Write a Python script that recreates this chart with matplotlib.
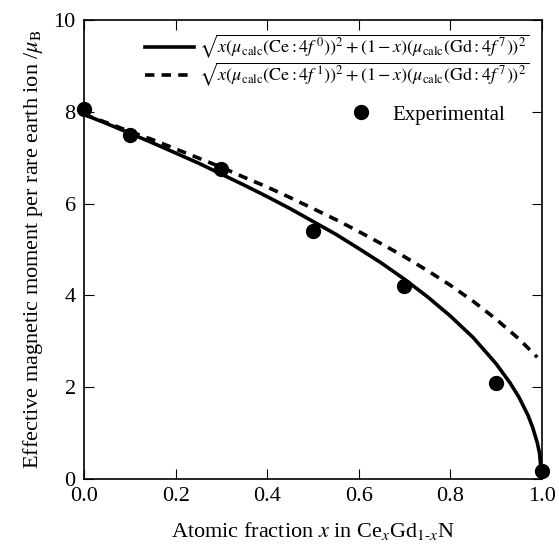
import matplotlib
matplotlib.use("Agg")
import matplotlib.pyplot as plt

plt.rcParams['font.family'] = ['Liberation Serif', 'DejaVu Serif']
plt.rcParams['mathtext.fontset'] = 'stix'

# Experimental data
x_exp = [0.0, 0.1, 0.3, 0.5, 0.7, 0.9, 1.0]
mu_exp = [8.05, 7.5, 6.75, 5.4, 4.2, 2.1, 0.18]

# Calculated curve (Ce 4f0)
x_f0 = [0, 0.05, 0.1, 0.15, 0.2, 0.25, 0.3, 0.35, 0.4, 0.45, 0.5, 0.55, 0.6,
        0.65, 0.7, 0.75, 0.8, 0.85, 0.9, 0.93, 0.95, 0.97, 0.98, 0.99, 0.995, 1.0]
mu_f0 = [7.94, 7.74, 7.53, 7.32, 7.10, 6.88, 6.64, 6.40, 6.15, 5.89, 5.61, 5.33, 5.02,
         4.70, 4.35, 3.97, 3.55, 3.08, 2.51, 2.10, 1.78, 1.38, 1.12, 0.79, 0.56, 0.0]

# Calculated curve (Ce 4f1)
x_f1 = [0, 0.05, 0.1, 0.15, 0.2, 0.25, 0.3, 0.35, 0.4, 0.45, 0.5, 0.55, 0.6,
        0.65, 0.7, 0.75, 0.8, 0.85, 0.9, 0.95, 0.99]
mu_f1 = [7.94, 7.76, 7.57, 7.39, 7.19, 6.99, 6.79, 6.57, 6.36, 6.13, 5.89, 5.65, 5.39,
         5.12, 4.84, 4.54, 4.22, 3.87, 3.48, 3.05, 2.65]

lab_f0 = r"$\sqrt{x(\mu_{\rm calc}(\mathrm{Ce}:4f^{\,0}))^2+(1-x)(\mu_{\rm calc}(\mathrm{Gd}:4f^{\,7}))^2}$"
lab_f1 = r"$\sqrt{x(\mu_{\rm calc}(\mathrm{Ce}:4f^{\,1}))^2+(1-x)(\mu_{\rm calc}(\mathrm{Gd}:4f^{\,7}))^2}$"

fig = plt.figure(figsize=(5.59, 5.53), dpi=100)
ax = fig.add_axes([0.1503, 0.134, 0.819, 0.830])

l0, = ax.plot(x_f0, mu_f0, color='black', lw=2.6, ls='-', label=lab_f0)
l1, = ax.plot(x_f1, mu_f1, color='black', lw=2.6, ls=(0, (2.6, 2.0)), label=lab_f1)
pe, = ax.plot(x_exp, mu_exp, 'o', color='black', ms=10, label='Experimental',
              clip_on=False, zorder=5)

ax.set_xlim(0, 1.0)
ax.set_ylim(0, 10)
ax.set_xticks([0, 0.2, 0.4, 0.6, 0.8, 1.0])
ax.set_xticklabels(['0.0', '0.2', '0.4', '0.6', '0.8', '1.0'])
ax.set_yticks([0, 2, 4, 6, 8, 10])
ax.tick_params(direction='in', top=True, right=True, length=7, width=0.8,
               labelsize=16, pad=6)
for s in ax.spines.values():
    s.set_linewidth(1.2)

ax.set_xlabel(r"Atomic fraction $x$ in Ce$_x$Gd$_{1\text{-}x}$N", fontsize=16, labelpad=10)
ax.set_ylabel(r"Effective magnetic moment per rare earth ion /$\mu_{\rm B}$", fontsize=16, labelpad=6)

leg1 = ax.legend(handles=[l0, l1], loc='upper left', frameon=False, fontsize=13,
                 handlelength=2.7, handletextpad=0.3, borderaxespad=0.0,
                 borderpad=0.0, labelspacing=0.05, bbox_to_anchor=(0.133, 0.972))
ax.add_artist(leg1)
ax.legend(handles=[pe], loc='center right', frameon=False, fontsize=15,
          handlelength=1.0, handletextpad=1.0, borderaxespad=0.0, borderpad=0.0,
          bbox_to_anchor=(0.92, 0.793))

fig.savefig('out.png', dpi=100)
